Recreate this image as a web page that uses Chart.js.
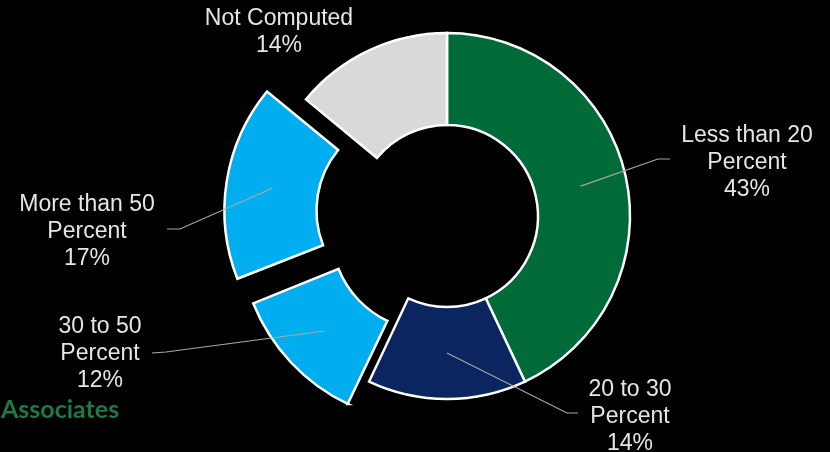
<!DOCTYPE html>
<html lang="en">
<head>
    <meta charset="UTF-8">
    <title>Associates</title>
    <script src="https://cdn.jsdelivr.net/npm/chart.js"></script>
    <style>
        html, body {
            margin: 0;
            padding: 0;
            background: #000;
        }
        .chart-box {
            position: relative;
            width: 830px;
            height: 452px;
            overflow: hidden;
        }
        .caption {
            position: absolute;
            left: 1px;
            top: 393px;
            font: bold 25px Lato, "Open Sans", "Liberation Sans", sans-serif;
            line-height: 30px;
            color: #1b7a45;
        }
    </style>
</head>
<body>
    <div class="chart-box">
        <canvas id="shareChart"></canvas>
        <div class="caption">Associates</div>
    </div>

    <script>
        // slices, clockwise from 12 o'clock
        const categories = ['Less than 20 Percent', '20 to 30 Percent', '30 to 50 Percent', 'More than 50 Percent', 'Not Computed'];
        const shares = [43, 14, 12, 17, 14];
        const labelLines = [
            ['Less than 20', 'Percent'],
            ['20 to 30', 'Percent'],
            ['30 to 50', 'Percent'],
            ['More than 50', 'Percent'],
            ['Not Computed']
        ];

        // styling
        const sliceColors = ['#006b38', '#0b2560', '#00aeef', '#00aeef', '#d9d9d9'];
        const explodePx = [0, 0, 31, 40, 0];

        // where each label sits (first baseline) and the bend of its leader line
        const labelLayout = [
            { x: 747, y: 142, leader: [[670, 159], [658, 159]] },
            { x: 630, y: 396, leader: [[578, 413], [567, 413]] },
            { x: 100, y: 333, leader: [[152, 353], [166, 352]] },
            { x: 87,  y: 211, leader: [[167, 229], [180, 229]] },
            { x: 279, y: 25,  leader: null }
        ];

        const total = shares.reduce((a, b) => a + b, 0);

        // Chart.js moves an arc by offset/4 and grows it by a bit more for thin slices,
        // so turn a wanted pixel shift into the offset value it needs
        function toArcOffset(px, i) {
            if (!px) return 0;
            const circ = shares[i] / total * Math.PI * 2;
            const fix = 1 - Math.sin(Math.min(Math.PI, circ));
            return 4 * px / (1 + fix);
        }

        const sliceLabels = {
            id: 'sliceLabels',
            afterDatasetsDraw(chart) {
                const ctx = chart.ctx;
                const arcs = chart.getDatasetMeta(0).data;
                ctx.save();

                // leader lines
                ctx.strokeStyle = '#a8a8a8';
                ctx.lineWidth = 1.2;
                arcs.forEach((arc, i) => {
                    const lay = labelLayout[i];
                    if (!lay.leader) return;
                    const mid = (arc.startAngle + arc.endAngle) / 2;
                    const r = (arc.innerRadius + arc.outerRadius) / 2 + explodePx[i];
                    ctx.beginPath();
                    ctx.moveTo(lay.leader[0][0], lay.leader[0][1]);
                    ctx.lineTo(lay.leader[1][0], lay.leader[1][1]);
                    ctx.lineTo(arc.x + Math.cos(mid) * r, arc.y + Math.sin(mid) * r);
                    ctx.stroke();
                });

                // text
                ctx.fillStyle = '#e6e6e6';
                ctx.font = '23px "Liberation Sans", Arial, sans-serif';
                ctx.textAlign = 'center';
                ctx.textBaseline = 'alphabetic';
                shares.forEach((v, i) => {
                    const lay = labelLayout[i];
                    const lines = labelLines[i].concat([v + '%']);
                    lines.forEach((t, k) => ctx.fillText(t, lay.x, lay.y + k * 27));
                });
                ctx.restore();
            }
        };

        new Chart(document.getElementById('shareChart'), {
            type: 'doughnut',
            data: {
                labels: categories,
                datasets: [{
                    data: shares,
                    backgroundColor: sliceColors,
                    borderColor: '#ffffff',
                    borderWidth: 2.5,
                    borderJoinStyle: 'miter',
                    offset: explodePx.map(toArcOffset),
                    clip: false
                }]
            },
            options: {
                responsive: true,
                maintainAspectRatio: false,
                animation: false,
                radius: 183,
                cutout: '49.7%',
                layout: { padding: { left: 64, right: 0, top: 0, bottom: 20 } },
                plugins: {
                    legend: { display: false },
                    tooltip: { enabled: false }
                }
            },
            plugins: [sliceLabels]
        });
    </script>
</body>
</html>
